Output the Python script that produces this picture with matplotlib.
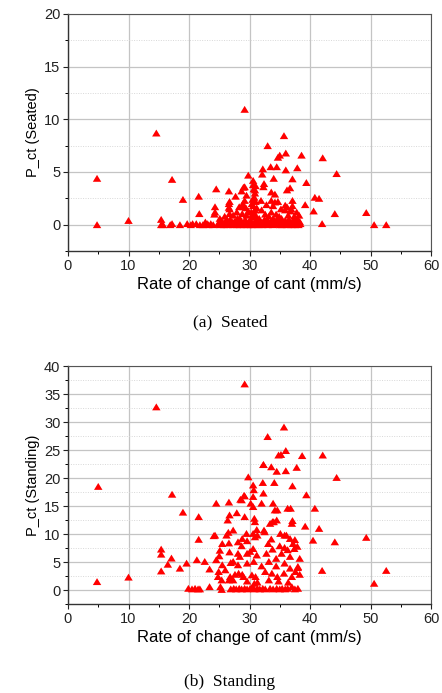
import matplotlib
matplotlib.use("Agg")
import matplotlib.pyplot as plt
from matplotlib.ticker import MultipleLocator
from matplotlib.path import Path

# ---------------- data: (a) Seated ----------------
seated_x = [
    4.8, 4.8, 10.0, 14.6, 15.4, 15.4, 15.7, 16.9, 17.2, 17.2, 18.5, 19.0, 19.7, 20.3, 20.6,
    21.2, 21.6, 21.7, 21.8, 22.7, 23.2, 23.6, 24.0, 24.2, 24.3, 24.3, 24.5, 24.8, 25.1,
    25.2, 25.3, 25.5, 25.8, 25.9, 26.0, 26.1, 26.4, 26.6, 26.6, 26.6, 26.7, 26.7, 26.7,
    26.8, 27.0, 27.3, 27.3, 27.5, 27.6, 27.7, 27.9, 27.9, 28.0, 28.2, 28.3, 28.4, 28.5,
    28.6, 28.7, 28.8, 28.8, 28.9, 29.0, 29.0, 29.1, 29.2, 29.2, 29.2, 29.3, 29.4, 29.4,
    29.5, 29.5, 29.7, 29.8, 29.8, 29.9, 30.0, 30.3, 30.3, 30.4, 30.4, 30.5, 30.6, 30.6,
    30.6, 30.7, 30.7, 30.8, 30.9, 30.9, 31.0, 31.0, 31.0, 31.1, 31.2, 31.2, 31.5, 31.6,
    31.8, 31.9, 32.0, 32.1, 32.1, 32.2, 32.3, 32.3, 32.4, 32.6, 32.7, 32.8, 32.9, 33.0,
    33.0, 33.2, 33.3, 33.5, 33.6, 33.6, 33.6, 33.6, 33.9, 33.9, 33.9, 34.0, 34.2, 34.2,
    34.2, 34.4, 34.5, 34.5, 34.7, 34.7, 34.8, 34.9, 35.0, 35.1, 35.2, 35.2, 35.3, 35.4,
    35.7, 35.7, 35.9, 35.9, 35.9, 36.0, 36.0, 36.0, 36.2, 36.2, 36.3, 36.4, 36.5, 36.6,
    36.7, 36.8, 36.9, 36.9, 37.1, 37.1, 37.1, 37.1, 37.2, 37.4, 37.5, 37.7, 37.8, 37.8,
    37.9, 37.9, 38.1, 38.2, 38.3, 38.4, 38.6, 39.2, 39.4, 40.6, 40.8, 41.5, 42.0, 42.1,
    44.1, 44.4, 49.3, 50.6, 52.6,
    22.3, 23.0, 25.6, 26.3, 27.1, 28.1, 30.2, 30.8, 31.4, 32.5, 33.1, 34.0, 35.5, 36.1,
    37.3, 38.0, 30.5, 30.9, 30.7,
]
seated_y = [
    4.4, 0.0, 0.4, 8.7, 0.5, 0.0, 0.0, 0.0, 0.1, 4.3, 0.0, 2.4, 0.1, 0.0, 0.1,
    0.1, 2.7, 1.05, 0.0, 0.25, 0.0, 0.1, 0.0, 1.0, 1.7, 1.2, 3.4, 0.1, 0.6,
    0.0, 0.4, 0.1, 0.0, 0.8, 0.3, 0.1, 0.0, 3.2, 1.65, 2.0, 2.2, 1.5, 1.05,
    0.5, 0.1, 0.9, 0.0, 0.3, 0.1, 2.7, 1.2, 0.0, 0.6, 0.1, 1.7, 0.6, 0.0,
    0.35, 3.2, 1.05, 0.1, 2.0, 1.7, 3.55, 0.0, 10.95, 3.6, 2.3, 0.5, 1.6, 0.1,
    2.8, 0.9, 0.0, 4.7, 1.3, 0.3, 0.1, 0.0, 1.2, 0.7, 2.0, 1.0, 4.2, 3.8, 1.8,
    3.4, 0.0, 2.6, 1.4, 3.0, 0.4, 2.2, 3.7, 0.8, 1.6, 0.1, 0.0, 0.6,
    0.1, 2.3, 1.4, 4.8, 0.0, 5.3, 3.6, 0.3, 3.9, 1.0, 0.1, 1.9, 0.5, 7.5,
    0.0, 0.8, 0.1, 5.5, 3.1, 2.3, 1.2, 0.35, 0.6, 1.8, 0.0, 4.4, 2.9, 2.15,
    0.1, 1.0, 5.5, 0.5, 6.4, 2.2, 0.3, 0.8, 6.6, 0.0, 1.5, 0.1, 0.6, 0.0,
    8.45, 0.1, 1.85, 1.4, 0.4, 6.8, 5.2, 0.1, 3.3, 1.7, 0.0, 0.9, 0.5, 0.1,
    3.5, 1.3, 1.5, 0.0, 4.35, 2.3, 1.8, 0.3, 0.1, 0.8, 0.0, 0.45, 1.2, 0.1,
    5.4, 0.6, 0.0, 0.9, 0.3, 0.1, 6.6, 1.9, 4.0, 1.3, 2.6, 2.5, 0.1, 6.35,
    1.05, 4.85, 1.15, 0.0, 0.0,
    0.0, 0.1, 0.2, 0.5, 0.3, 0.2, 0.4, 0.1, 0.3, 0.5, 0.3, 0.2, 0.3, 0.2,
    0.4, 0.2, 2.4, 3.3, 1.2,
]

# ---------------- data: (b) Standing ----------------
standing_x = [
    4.8, 5.0, 10.0, 14.6, 15.4, 15.4, 15.4, 16.5, 17.1, 17.2, 18.5, 19.0, 19.6,
    19.9, 20.5, 21.0, 21.5, 21.8, 23.4, 25.2, 25.4, 26.9, 27.4, 27.8, 28.3, 28.7,
    29.2, 29.6, 30.1, 30.5, 30.8, 31.3, 31.7, 32.2, 32.6, 33.4, 33.9, 34.5, 35.0,
    35.4, 35.9, 36.3, 37.0, 37.5, 38.0,
    29.8, 30.6, 32.2, 34.1, 37.1, 30.7, 29.2, 30.6, 32.3, 28.7, 24.5, 26.6, 30.2,
    30.6, 32.0, 33.9, 36.3, 36.8, 34.6, 21.6, 26.7, 27.9, 26.4, 29.2, 30.8, 30.9,
    33.4, 33.8, 34.5, 37.0, 27.3, 24.3, 26.2, 29.5, 30.6, 30.9, 31.3, 32.5, 35.1,
    35.8, 36.7, 37.5, 21.6, 25.5, 26.6, 28.1, 28.7, 29.6, 30.6, 33.1, 33.8, 35.0,
    35.8, 36.3, 37.4, 37.9, 25.1, 26.7, 28.1, 29.6, 31.2, 32.8, 34.4, 35.3, 36.7,
    38.3, 21.3, 22.6, 24.5, 25.5, 27.3, 28.1, 29.6, 30.7, 32.0, 33.2, 34.4, 35.8,
    36.7, 38.0, 23.4, 24.9, 26.0, 26.8, 28.2, 29.0, 30.4, 31.0, 32.6, 33.7, 34.6,
    35.7, 37.0, 37.6, 25.4, 27.3, 29.6, 31.3, 33.2, 34.8, 36.4,
    24.1, 24.8, 25.0, 26.5, 26.6, 28.4, 28.5, 28.8, 29.1, 30.1, 30.8, 31.2, 32.3,
    32.4, 33.6, 34.2, 34.0, 36.1, 37.1, 37.2, 38.0, 38.3, 26.9, 27.6, 28.8,
    29.2, 33.0, 32.3, 33.6, 34.5, 34.8, 35.2, 35.7, 36.0, 36.0, 37.8, 38.7,
    39.4, 39.2, 40.8, 40.5, 41.5, 42.1, 42.0, 44.1, 44.4, 49.3, 50.6, 52.6,
]
standing_y = [
    1.5, 18.5, 2.3, 32.7, 7.3, 6.4, 3.4, 4.6, 5.7, 17.1, 3.9, 13.9, 4.8,
    0.3, 0.2, 0.3, 0.2, 0.2, 0.6, 0.6, 0.1, 0.2, 0.3, 0.2, 0.3, 0.2,
    0.3, 0.2, 0.3, 0.5, 0.2, 0.3, 0.2, 0.3, 0.2, 0.3, 0.2, 0.3, 0.2,
    0.3, 0.2, 0.3, 0.6, 0.2, 0.3,
    20.2, 18.75, 19.2, 19.2, 18.6, 17.9, 16.8, 16.7, 17.3, 16.1, 15.5, 15.7, 15.5,
    14.9, 15.5, 15.5, 14.6, 14.6, 14.3, 13.1, 13.4, 13.8, 12.5, 13.1, 12.8, 12.2,
    11.9, 12.2, 12.5, 11.9, 10.7, 9.8, 9.8, 10.1, 10.1, 9.5, 9.8, 10.4, 10.1,
    9.8, 9.2, 9.0, 9.05, 8.3, 8.4, 8.6, 7.9, 8.8, 7.4, 8.3, 7.3, 7.9,
    7.6, 7.2, 7.4, 7.8, 7.1, 6.8, 6.55, 6.55, 6.25, 6.55, 5.65, 6.55, 6.0,
    5.65, 5.4, 5.1, 5.4, 4.5, 5.1, 4.5, 4.8, 5.1, 4.3, 5.1, 4.3, 4.8,
    3.9, 4.2, 3.75, 3.3, 3.6, 2.4, 3.0, 2.4, 2.7, 2.4, 3.3, 3.0, 2.4,
    3.0, 2.4, 3.3, 1.8, 1.8, 1.6, 1.4, 1.8, 1.6, 1.4,
    9.7, 2.4, 6.1, 10.3, 1.8, 6.0, 16.2, 9.2, 16.9, 6.9, 1.2, 10.8, 22.4,
    10.7, 9.1, 14.3, 12.2, 9.8, 12.4, 8.3, 4.0, 2.8, 4.9, 2.8, 2.8,
    36.8, 27.4, 22.4, 22.0, 21.2, 24.1, 24.2, 29.1, 24.9, 21.3, 21.9, 24.0,
    17.0, 11.4, 14.6, 8.9, 11.0, 24.1, 3.5, 8.6, 20.1, 9.4, 1.2, 3.5,
]

x_ticks = [0, 10, 20, 30, 40, 50, 60]
seated_yticks = [0, 5, 10, 15, 20]
standing_yticks = [0, 5, 10, 15, 20, 25, 30, 35, 40]

W, H = 442, 693
fig = plt.figure(figsize=(W / 100, H / 100), dpi=100)
fig.patch.set_facecolor("white")

sans = ["Liberation Sans", "DejaVu Sans"]
serif = ["Liberation Serif", "DejaVu Serif"]

# slightly wide triangle marker (the reference image is stretched horizontally)
tri = Path([(0.0, 0.41), (-0.5, -0.41), (0.5, -0.41), (0.0, 0.41)],
           [Path.MOVETO, Path.LINETO, Path.LINETO, Path.CLOSEPOLY])


def style_axes(ax, yticks, ylim, ylabel):
    ax.set_xlim(0, 60)
    ax.set_ylim(*ylim)
    ax.set_xticks(x_ticks)
    ax.set_yticks(yticks)
    ax.xaxis.set_minor_locator(MultipleLocator(5))
    ax.yaxis.set_minor_locator(MultipleLocator(2.5))
    ax.grid(True, which="major", color="#c4c4c4", linewidth=0.9, linestyle="-")
    ax.grid(True, which="minor", axis="y", color="#d8d8d8", linewidth=0.7,
            linestyle=(0, (1, 1.5)))
    ax.set_axisbelow(True)
    ax.tick_params(which="major", direction="out", length=3.5, width=0.8,
                   labelsize=10.5, colors="#222222", pad=2,
                   top=False, right=False)
    ax.tick_params(which="minor", direction="out", length=2, width=0.7,
                   top=False, right=False)
    for lab in ax.get_xticklabels() + ax.get_yticklabels():
        lab.set_fontfamily(sans)
    for s in ["left", "bottom"]:
        ax.spines[s].set_color("#333333")
        ax.spines[s].set_linewidth(1.0)
    for s in ["top", "right"]:
        ax.spines[s].set_color("#555555")
        ax.spines[s].set_linewidth(0.8)
    ax.set_ylabel(ylabel, fontsize=10.5, family=sans, labelpad=3)
    ax.set_xlabel("Rate of change of cant (mm/s)", fontsize=12, family=sans,
                  labelpad=3)


ax1 = fig.add_axes([68 / W, 1 - 251 / H, 363 / W, 237 / H])
ax1.scatter(seated_x, seated_y, marker=tri, s=37, color="#ff0000",
            edgecolors="none", zorder=3)
style_axes(ax1, seated_yticks, (-2.5, 20), "P_ct (Seated)")

ax2 = fig.add_axes([68 / W, 1 - 604 / H, 363 / W, 238 / H])
ax2.scatter(standing_x, standing_y, marker=tri, s=37, color="#ff0000",
            edgecolors="none", zorder=3)
style_axes(ax2, standing_yticks, (-2.5, 40), "P_ct (Standing)")

fig.text(230 / W, 1 - 322 / H, "(a)  Seated", ha="center", va="center",
         fontsize=12.5, family=serif)
fig.text(230 / W, 1 - 682 / H, "(b)  Standing", ha="center", va="center",
         fontsize=12.5, family=serif)

fig.savefig("out.png", dpi=100, facecolor="white")
